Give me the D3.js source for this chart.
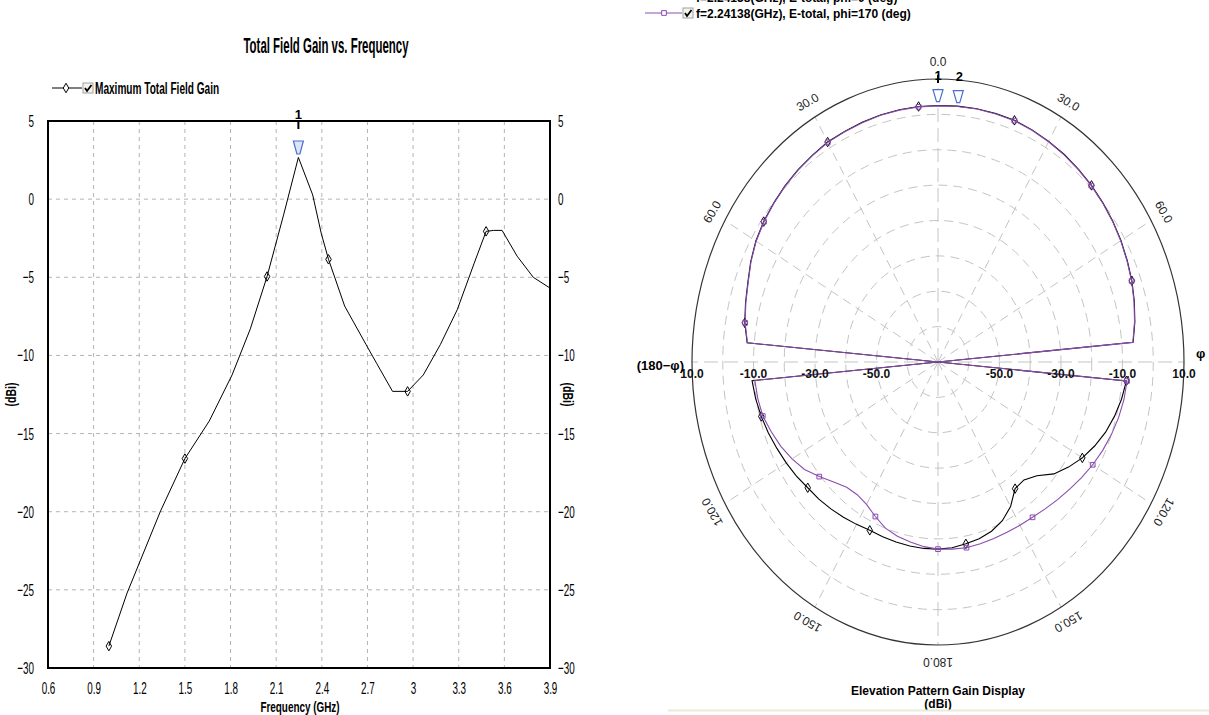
<!DOCTYPE html>
<html>
<head>
<meta charset="utf-8">
<script src="https://cdn.jsdelivr.net/npm/d3@7"></script>
<style>
  body { margin: 0; background: #fff; }
  svg { display: block; }
  .narrow { font-family: "Liberation Sans", Arial, sans-serif; }
  .arial { font-family: "Liberation Sans", Arial, sans-serif; }
</style>
</head>
<body>
<svg id="chart" width="1209" height="715"></svg>
<script>
// ---- left plot: max total field gain vs frequency
const freqGHz = [1.0, 1.12, 1.34, 1.5, 1.66, 1.81, 1.93, 2.04, 2.15, 2.246, 2.34, 2.396, 2.444, 2.55, 2.69, 2.76, 2.865, 2.964, 3.067, 3.18, 3.29, 3.40, 3.48, 3.53, 3.585, 3.684, 3.79, 3.9];
const maxGainDbi = [-28.6, -25.2, -19.95, -16.6, -14.2, -11.25, -8.3, -4.95, -0.96, 2.67, 0.27, -2.18, -3.85, -6.84, -9.29, -10.5, -12.3, -12.3, -11.25, -9.29, -7.08, -4.14, -2.06, -2.0, -2.0, -3.65, -5.0, -5.69];
const gainMarkerFreqs = [1.0, 1.5, 2.04, 2.444, 2.964, 3.48];
const peakFreq = 2.246;
const freqTicks = [0.6, 0.9, 1.2, 1.5, 1.8, 2.1, 2.4, 2.7, 3, 3.3, 3.6, 3.9];
const gainTicks = [5, 0, -5, -10, -15, -20, -25, -30];

// ---- right plot: elevation pattern at 2.24138 GHz
const thetaDeg = [0, 5, 10, 15, 20, 25, 30, 35, 40, 45, 50, 55, 60, 65, 70, 75, 80, 85,
  90, 95, 100, 105, 110, 115, 120, 125, 130, 135, 140, 145, 150, 155, 160, 165, 170, 175,
  180, 185, 190, 195, 200, 205, 210, 215, 220, 225, 230, 235, 240, 245, 250, 255, 260, 265,
  270, 275, 280, 285, 290, 295, 300, 305, 310, 315, 320, 325, 330, 335, 340, 345, 350, 355];
const gainPhi0 = [2.5, 2.6, 2.7, 2.7, 2.7, 2.4, 2.0, 1.6, 1.1, 0.6, 0.0, -0.6, -1.3, -2.1, -2.9, -3.9, -5.0, -6.3,
  -70, -8.5, -9.4, -10.6, -12.0, -13.8, -15.8, -18.2, -20.8, -24.5, -26.5, -26.3, -22.8, -20.5, -19.1, -18.3, -17.8, -17.3,
  -17.1, -17.1, -17.2, -17.3, -17.4, -17.5, -17.0, -16.4, -15.8, -15.2, -14.7, -13.8, -13.0, -12.2, -11.3, -10.5, -9.8, -9.3,
  -70, -7.7, -6.2, -5.2, -4.2, -2.8, -1.6, -0.8, -0.2, 0.4, 0.9, 1.3, 1.8, 1.9, 2.1, 2.3, 2.4, 2.5];
const gainPhi170 = [2.4, 2.5, 2.6, 2.6, 2.6, 2.3, 1.9, 1.5, 1.0, 0.5, -0.1, -0.7, -1.4, -2.2, -3.0, -4.0, -5.1, -6.4,
  -70, -8.3, -8.6, -9.2, -10.0, -10.9, -11.9, -13.0, -14.1, -15.0, -15.8, -16.4, -16.7, -16.9, -16.9, -16.8, -16.7, -16.9,
  -17.1, -17.6, -18.3, -19.0, -20.0, -21.8, -23.5, -24.2, -23.8, -22.0, -19.6, -17.0, -15.2, -13.6, -12.3, -11.0, -10.5, -10.2,
  -70, -7.8, -6.3, -5.3, -4.3, -2.9, -1.7, -0.9, -0.3, 0.3, 0.8, 1.2, 1.7, 1.8, 2.0, 2.2, 2.3, 2.4];
const markerThetaPhi0 = [355, 20, 45, 70, 95, 120, 145, 170, 205, 230, 255, 280, 305, 330];
const markerThetaPhi170 = [355, 20, 45, 70, 95, 120, 145, 170, 180, 205, 230, 255, 280, 305, 330];
const ringGains = [0, -10, -20, -30, -40, -50, -60];
const ringLabelGains = [10, -10, -30, -50];
const spokeTheta = [0, 30, 60, 90, 120, 150, 180, 210, 240, 270, 300, 330];
const angleLabels = [[0, "0.0"], [30, "30.0"], [60, "60.0"], [120, "120.0"], [150, "150.0"], [180, "180.0"],
  [210, "150.0"], [240, "120.0"], [300, "60.0"], [330, "30.0"]];
const legendPhi0 = "f=2.24138(GHz), E-total, phi=0 (deg)";
const legendPhi170 = "f=2.24138(GHz), E-total, phi=170 (deg)";

function whenDocumentLoaded(action) {
  if (document.readyState === "loading") {
    document.addEventListener("DOMContentLoaded", action);
  } else {
    action();
  }
}

// no Arial Narrow here, so squeeze the glyphs instead
function squeeze(sel, k) {
  sel.each(function() {
    const w = this.getComputedTextLength();
    d3.select(this).attr("textLength", w * k).attr("lengthAdjust", "spacingAndGlyphs");
  });
}

function checkbox(g, x, y) {
  g.append("rect").attr("x", x).attr("y", y).attr("width", 10).attr("height", 10)
    .attr("fill", "#f4f4ee").attr("stroke", "#a0a0a0");
  g.append("path").attr("d", `M${x+2},${y+5} L${x+4},${y+8} L${x+8.5},${y+2}`)
    .attr("fill", "none").attr("stroke", "#000").attr("stroke-width", 1.8);
}

const diamond = d3.symbol().type(d3.symbolDiamond).size(26);
const square = d3.symbol().type(d3.symbolSquare).size(22);

class GainVsFrequency {
  constructor(svg) {
    const left = 48, right = 550, top = 121, bottom = 668;
    const x = d3.scaleLinear().domain([0.6, 3.9]).range([left, right]);
    const y = d3.scaleLinear().domain([-30, 5]).range([bottom, top]);
    const g = svg.append("g").attr("class", "narrow");

    const title = g.append("text").attr("x", 326).attr("y", 53).attr("text-anchor", "middle")
      .attr("font-size", 22).attr("font-weight", "bold").text("Total Field Gain vs. Frequency");
    squeeze(title, 0.52);

    // legend
    g.append("line").attr("x1", 52).attr("x2", 82).attr("y1", 88).attr("y2", 88).attr("stroke", "#000");
    g.append("path").attr("d", diamond).attr("transform", "translate(66,88)").attr("fill", "#fff").attr("stroke", "#000");
    checkbox(g, 83, 83);
    const leg = g.append("text").attr("x", 95).attr("y", 94).attr("font-size", 16).attr("font-weight", "bold")
      .text("Maximum Total Field Gain");
    squeeze(leg, 0.63);

    // grid
    g.append("g").selectAll("line").data(freqTicks.slice(1, -1)).join("line")
      .attr("x1", d => x(d)).attr("x2", d => x(d)).attr("y1", top).attr("y2", bottom)
      .attr("stroke", "#b4b4b4").attr("stroke-dasharray", "4,4");
    g.append("g").selectAll("line").data(gainTicks.slice(1, -1)).join("line")
      .attr("x1", left).attr("x2", right).attr("y1", d => y(d)).attr("y2", d => y(d))
      .attr("stroke", "#b4b4b4").attr("stroke-dasharray", "4,4");

    // axes
    const xAxis = g.append("g").attr("transform", `translate(0,${bottom})`)
      .call(d3.axisBottom(x).tickValues(freqTicks).tickSize(0).tickPadding(14).tickFormat(d3.format("")));
    const yLeft = g.append("g").attr("transform", `translate(${left},0)`)
      .call(d3.axisLeft(y).tickValues(gainTicks).tickSize(0).tickPadding(14));
    const yRight = g.append("g").attr("transform", `translate(${right},0)`)
      .call(d3.axisRight(y).tickValues(gainTicks).tickSize(0).tickPadding(8));
    [xAxis, yLeft, yRight].forEach(a => {
      a.select(".domain").remove();
      a.selectAll("text").attr("font-size", 17).attr("font-family", null).attr("fill", "#000");
      squeeze(a.selectAll("text"), 0.58);
    });

    g.append("rect").attr("x", left).attr("y", top).attr("width", right - left).attr("height", bottom - top)
      .attr("fill", "none").attr("stroke", "#000").attr("stroke-width", 2);

    const yl = g.append("text").attr("transform", `translate(16,${(top + bottom) / 2}) rotate(-90)`)
      .attr("text-anchor", "middle").attr("font-size", 15).attr("font-weight", "bold").text("(dBi)");
    const yr = g.append("text").attr("transform", `translate(563,${(top + bottom) / 2}) rotate(90)`)
      .attr("text-anchor", "middle").attr("font-size", 15).attr("font-weight", "bold").text("(dBi)");
    const xl = g.append("text").attr("x", 300).attr("y", 712).attr("text-anchor", "middle")
      .attr("font-size", 15).attr("font-weight", "bold").text("Frequency (GHz)");
    squeeze(yl, 0.7); squeeze(yr, 0.7); squeeze(xl, 0.66);

    const pts = freqGHz.map((f, i) => [f, maxGainDbi[i]]);
    g.append("path").datum(pts)
      .attr("d", d3.line().x(d => x(d[0])).y(d => y(d[1])))
      .attr("fill", "none").attr("stroke", "#000").attr("stroke-width", 1);
    g.append("g").selectAll("path").data(pts.filter(p => gainMarkerFreqs.includes(p[0]))).join("path")
      .attr("d", diamond).attr("transform", d => `translate(${x(d[0])},${y(d[1])})`)
      .attr("fill", "none").attr("stroke", "#000");

    // marker 1 at the peak
    const px = x(peakFreq);
    g.append("line").attr("x1", px).attr("x2", px).attr("y1", top).attr("y2", top + 8)
      .attr("stroke", "#000").attr("stroke-width", 2);
    g.append("text").attr("x", px).attr("y", top - 2).attr("text-anchor", "middle")
      .attr("font-size", 13).attr("font-weight", "bold").text("1");
    g.append("path").attr("d", `M${px-5},${top+20} L${px+5},${top+20} L${px+1.5},${top+33} L${px-1.5},${top+33} Z`)
      .attr("fill", "#dde6f7").attr("stroke", "#4a6fd0").attr("stroke-width", 1.2);
  }
}

class ElevationPattern {
  constructor(svg) {
    const cx = 938, cy = 362, rx = 246, ry = 283;
    const rho = d3.scaleLinear().domain([-70, 10]).range([0, 1]).clamp(true);
    const px = (t, gdb) => cx + rx * rho(gdb) * Math.sin(t * Math.PI / 180);
    const py = (t, gdb) => cy - ry * rho(gdb) * Math.cos(t * Math.PI / 180);
    const g = svg.append("g").attr("class", "arial");

    // legend (first row clipped by the top edge, as in the capture)
    g.append("line").attr("x1", 645).attr("x2", 682).attr("y1", -4).attr("y2", -4).attr("stroke", "#000");
    g.append("text").attr("x", 696).attr("y", 2).attr("font-size", 12).attr("font-weight", "bold").text(legendPhi0);
    g.append("line").attr("x1", 645).attr("x2", 682).attr("y1", 13).attr("y2", 13).attr("stroke", "#8a4caf");
    g.append("path").attr("d", square).attr("transform", "translate(664,13)").attr("fill", "#fff").attr("stroke", "#8a4caf");
    checkbox(g, 683, 8);
    g.append("text").attr("x", 696).attr("y", 18).attr("font-size", 12).attr("font-weight", "bold").text(legendPhi170);

    // rings
    g.append("g").selectAll("ellipse").data(ringGains).join("ellipse")
      .attr("cx", cx).attr("cy", cy).attr("rx", d => rx * rho(d)).attr("ry", d => ry * rho(d))
      .attr("fill", "none").attr("stroke", "#c4c4c4").attr("stroke-dasharray", "9,6");
    g.append("g").selectAll("line").data(spokeTheta).join("line")
      .attr("x1", cx).attr("y1", cy)
      .attr("x2", d => px(d, 10)).attr("y2", d => py(d, 10))
      .attr("stroke", "#c4c4c4").attr("stroke-dasharray", d => d % 90 === 0 ? "14,6" : "9,6");
    g.append("ellipse").attr("cx", cx).attr("cy", cy).attr("rx", rx).attr("ry", ry)
      .attr("fill", "none").attr("stroke", "#333").attr("stroke-width", 1.2);

    // angle labels
    g.append("g").selectAll("text").data(angleLabels).join("text")
      .attr("transform", d => `translate(${cx + rx * 1.06 * Math.sin(d[0] * Math.PI / 180)},${cy - ry * 1.06 * Math.cos(d[0] * Math.PI / 180)}) rotate(${d[0]})`)
      .attr("text-anchor", "middle").attr("dominant-baseline", "central")
      .attr("font-size", 12).attr("fill", "#222").text(d => d[1]);

    // traces
    const line = d3.line().x(d => px(d[0], d[1])).y(d => py(d[0], d[1])).curve(d3.curveLinearClosed);
    const series = [
      { gains: gainPhi0, color: "#000", marks: markerThetaPhi0, sym: diamond },
      { gains: gainPhi170, color: "#8a4caf", marks: markerThetaPhi170, sym: square }
    ];
    series.forEach(s => {
      const pts = thetaDeg.map((t, i) => [t, s.gains[i]]);
      g.append("path").datum(pts).attr("d", line)
        .attr("fill", "none").attr("stroke", s.color).attr("stroke-width", 1.1);
      g.append("g").selectAll("path").data(pts.filter(p => s.marks.includes(p[0]))).join("path")
        .attr("d", s.sym).attr("transform", d => `translate(${px(d[0], d[1])},${py(d[0], d[1])})`)
        .attr("fill", "none").attr("stroke", s.color);
    });

    // radial gain labels along the horizontal axis
    const lab = g.append("g").attr("font-size", 12).attr("font-weight", "bold").attr("text-anchor", "middle").attr("fill", "#111");
    ringLabelGains.forEach(v => {
      lab.append("text").attr("x", px(90, v)).attr("y", cy + 16).text(v.toFixed(1));
      lab.append("text").attr("x", px(270, v)).attr("y", cy + 16).text(v.toFixed(1));
    });
    g.append("text").attr("x", cx - rx - 8).attr("y", cy + 8).attr("text-anchor", "end")
      .attr("font-size", 13).attr("font-weight", "bold").text("(180−φ)");
    g.append("text").attr("x", cx + rx + 12).attr("y", cy - 4).attr("text-anchor", "start")
      .attr("font-size", 13).attr("font-weight", "bold").text("φ");

    // markers 1 and 2
    [[0, "1"], [5, "2"]].forEach(([t, name]) => {
      const mx = px(t, 10), my = py(t, 10);
      if (name === "1") {
        g.append("line").attr("x1", mx).attr("x2", mx).attr("y1", my - 4).attr("y2", my + 4)
          .attr("stroke", "#000").attr("stroke-width", 2);
      }
      g.append("text").attr("x", mx).attr("y", my + 1).attr("text-anchor", "middle")
        .attr("font-size", 13).attr("font-weight", "bold").text(name);
      const tx = px(t, 5.6), ty = py(t, 5.6);
      g.append("path").attr("d", `M${tx-5},${ty-5} L${tx+5},${ty-5} L${tx+1.5},${ty+7} L${tx-1.5},${ty+7} Z`)
        .attr("fill", "#fff").attr("stroke", "#4a6fd0").attr("stroke-width", 1.2);
    });

    g.append("text").attr("x", cx).attr("y", 695).attr("text-anchor", "middle")
      .attr("font-size", 12).attr("font-weight", "bold").text("Elevation Pattern Gain Display");
    g.append("text").attr("x", cx).attr("y", 708).attr("text-anchor", "middle")
      .attr("font-size", 12).attr("font-weight", "bold").text("(dBi)");
    g.append("line").attr("x1", 668).attr("x2", 1209).attr("y1", 710.5).attr("y2", 710.5)
      .attr("stroke", "#ece9d8").attr("stroke-width", 2);
  }
}

whenDocumentLoaded(() => {
  const svg = d3.select("#chart");
  new GainVsFrequency(svg);
  new ElevationPattern(svg);
});
</script>
</body>
</html>
